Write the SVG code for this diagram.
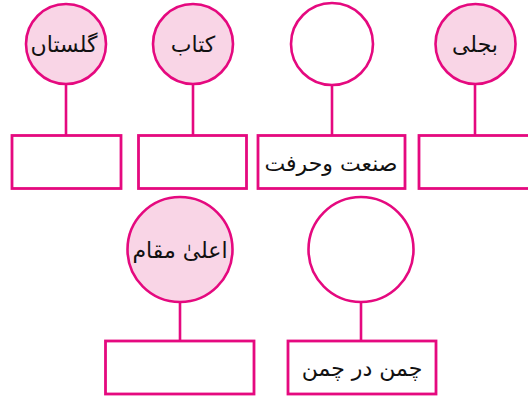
<svg xmlns="http://www.w3.org/2000/svg" width="528" height="396" viewBox="0 0 528 396">
  <style>
    .bubble { stroke: #e5097f; stroke-width: 2.6; }
    .filled { fill: #f9d5e6; }
    .blank { fill: #ffffff; }
    .box { fill: #ffffff; stroke: #e5097f; stroke-width: 2.8; }
    .link { stroke: #e5097f; stroke-width: 2.6; fill: none; }
    .word { font-family: "DejaVu Sans", "Noto Sans", sans-serif; font-size: 22px; fill: #111111; text-anchor: middle; direction: rtl; }
  </style>
  <rect width="528" height="396" fill="#ffffff"/>

  <!-- connectors from each circle down to its answer box -->
  <g id="connectors">
    <line class="link" x1="66" y1="84" x2="66" y2="135"/>
    <line class="link" x1="193" y1="84" x2="193" y2="135"/>
    <line class="link" x1="332" y1="85" x2="332" y2="135"/>
    <line class="link" x1="475" y1="84" x2="475" y2="135"/>
    <line class="link" x1="180" y1="302" x2="180" y2="341"/>
    <line class="link" x1="361" y1="302" x2="361" y2="341"/>
  </g>

  <!-- top row -->
  <g id="node-gulistan">
    <circle class="bubble filled" cx="66" cy="44" r="40"/>
    <text class="word" x="64" y="52">گلستاں</text>
  </g>
  <g id="box-gulistan">
    <rect class="box" x="12" y="135.5" width="109" height="53"/>
  </g>

  <g id="node-kitab">
    <circle class="bubble filled" cx="193" cy="44" r="40"/>
    <text class="word" x="193" y="52">کتاب</text>
  </g>
  <g id="box-kitab">
    <rect class="box" x="138.5" y="135.5" width="108" height="53"/>
  </g>

  <g id="node-empty-1">
    <circle class="bubble blank" cx="332" cy="44" r="41"/>
  </g>
  <g id="box-sanat">
    <rect class="box" x="258" y="135.5" width="147" height="53"/>
    <text class="word" x="331" y="171">صنعت وحرفت</text>
  </g>

  <g id="node-bijli">
    <circle class="bubble filled" cx="475.5" cy="44" r="40"/>
    <text class="word" x="475" y="52">بجلی</text>
  </g>
  <g id="box-bijli">
    <rect class="box" x="419" y="135.5" width="115" height="53"/>
  </g>

  <!-- bottom row -->
  <g id="node-ala-maqam">
    <circle class="bubble filled" cx="180" cy="249.5" r="52.5"/>
    <text class="word" x="180" y="258">اعلیٰ مقام</text>
  </g>
  <g id="box-ala-maqam">
    <rect class="box" x="105.5" y="341" width="148.5" height="53"/>
  </g>

  <g id="node-empty-2">
    <circle class="bubble blank" cx="361" cy="249.5" r="52.5"/>
  </g>
  <g id="box-chaman">
    <rect class="box" x="288" y="341" width="148" height="53"/>
    <text class="word" x="362" y="376">چمن در چمن</text>
  </g>
</svg>
